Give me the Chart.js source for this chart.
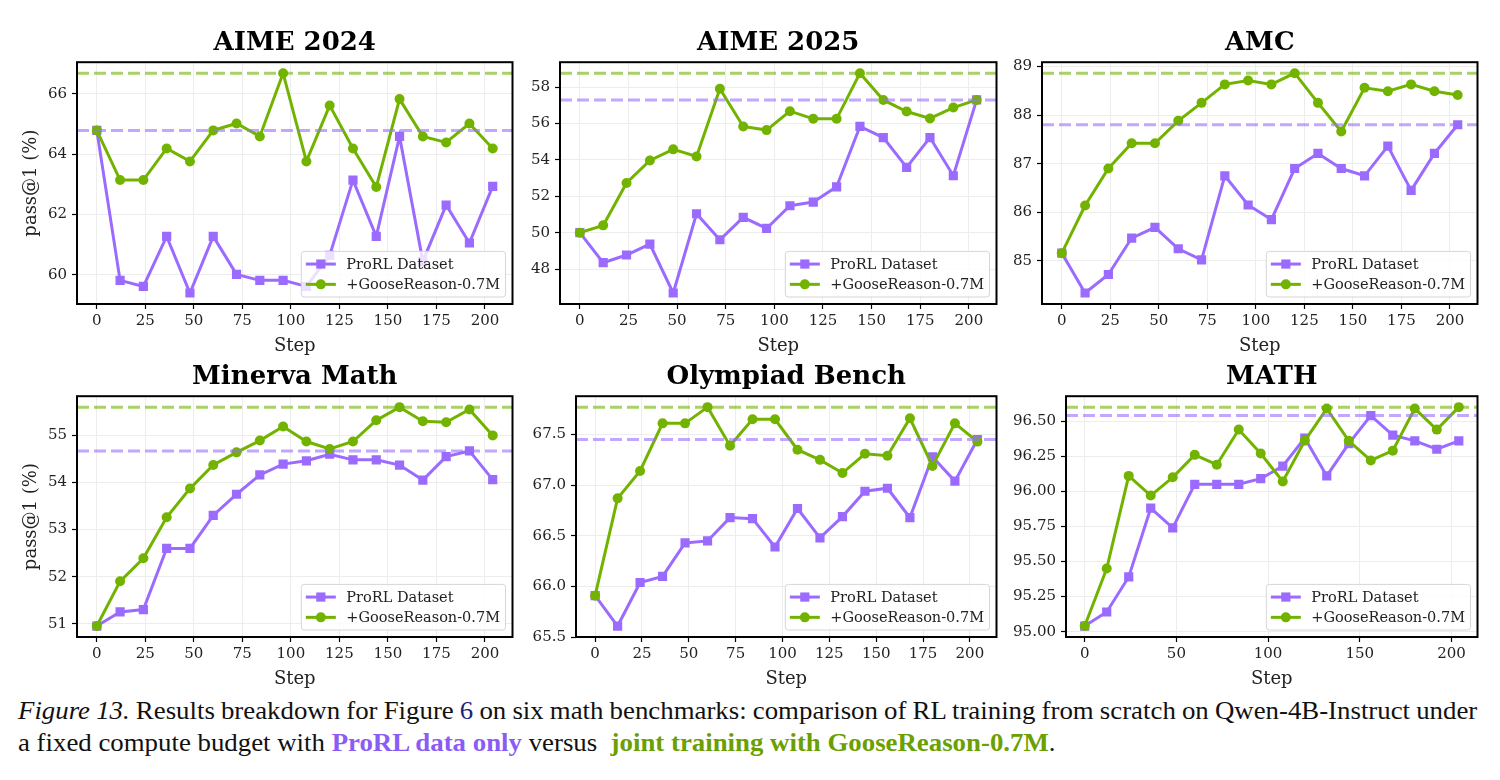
<!DOCTYPE html>
<html>
<head>
<meta charset="utf-8">
<script src="https://cdn.jsdelivr.net/npm/chart.js@4.4.1/dist/chart.umd.min.js"></script>
<style>
  body { margin: 0; background: #fff; width: 1500px; height: 780px; position: relative; overflow: hidden; }
  .panel { position: absolute; }
  .caption { position: absolute; left: 18px; width: 1360px; font-family: "Liberation Serif", "Times New Roman", serif; font-size: 25px; color: #111; transform-origin: 0 0; transform: scaleX(1.073); white-space: nowrap; }
  .line1 { top: 697px; word-spacing: -3.5px; text-align: justify; text-align-last: justify; }
  .line2 { top: 729px; }
  .cp { color: #8a5cf6; font-weight: bold; }
  .cg { color: #6aa000; font-weight: bold; }
  .ref { color: #1a237e; }
</style>
</head>
<body>
<div class="panel" id="box0"><canvas id="c0"></canvas></div>
<div class="panel" id="box1"><canvas id="c1"></canvas></div>
<div class="panel" id="box2"><canvas id="c2"></canvas></div>
<div class="panel" id="box3"><canvas id="c3"></canvas></div>
<div class="panel" id="box4"><canvas id="c4"></canvas></div>
<div class="panel" id="box5"><canvas id="c5"></canvas></div>
<div class="caption line1"><i>Figure 13.</i> Results breakdown for Figure <span class="ref">6</span> on six math benchmarks: comparison of RL training from scratch on Qwen-4B-Instruct under</div>
<div class="caption line2">a fixed compute budget with <span class="cp">ProRL data only</span> versus &nbsp;<span class="cg">joint training with GooseReason-0.7M</span>.</div>
<script>
// training steps (x axis)
const steps = [0, 12, 24, 36, 48, 60, 72, 84, 96, 108, 120, 132, 144, 156, 168, 180, 192, 204];
const xTicks25 = [0, 25, 50, 75, 100, 125, 150, 175, 200];
const xTicks50 = [0, 50, 100, 150, 200];

// pass@1 (%) per benchmark
const aime24Prorl = [64.79, 59.81, 59.61, 61.27, 59.39, 61.27, 60.01, 59.81, 59.81, 59.61, 60.64, 63.14, 61.27, 64.59, 60.44, 62.31, 61.05, 62.93];
const aime24Goose = [64.79, 63.14, 63.14, 64.19, 63.76, 64.79, 65.02, 64.59, 66.69, 63.76, 65.62, 64.19, 62.91, 65.83, 64.59, 64.39, 65.02, 64.19];
const aime24YTicks = [60, 62, 64, 66];

const aime25Prorl = [50.0, 48.35, 48.77, 49.37, 46.68, 51.04, 49.61, 50.84, 50.23, 51.48, 51.68, 52.52, 55.84, 55.23, 53.59, 55.23, 53.13, 57.3];
const aime25Goose = [50.0, 50.4, 52.73, 53.97, 54.58, 54.19, 57.91, 55.84, 55.64, 56.68, 56.26, 56.26, 58.77, 57.3, 56.66, 56.28, 56.88, 57.3];
const aime25YTicks = [48, 50, 52, 54, 56, 58];

const amcProrl = [85.16, 84.34, 84.72, 85.47, 85.69, 85.25, 85.02, 86.75, 86.15, 85.85, 86.9, 87.21, 86.9, 86.75, 87.36, 86.45, 87.21, 87.8];
const amcGoose = [85.16, 86.14, 86.9, 87.42, 87.42, 87.88, 88.25, 88.63, 88.71, 88.63, 88.86, 88.25, 87.66, 88.56, 88.49, 88.63, 88.49, 88.41];
const amcYTicks = [85, 86, 87, 88, 89];

const minervaProrl = [50.95, 51.25, 51.3, 52.6, 52.6, 53.3, 53.75, 54.16, 54.39, 54.46, 54.6, 54.48, 54.48, 54.37, 54.05, 54.55, 54.67, 54.06];
const minervaGoose = [50.95, 51.9, 52.39, 53.26, 53.87, 54.37, 54.64, 54.89, 55.19, 54.87, 54.71, 54.87, 55.32, 55.6, 55.3, 55.28, 55.55, 55.0];
const minervaYTicks = [51, 52, 53, 54, 55];

const olympProrl = [65.91, 65.61, 66.04, 66.1, 66.43, 66.45, 66.68, 66.67, 66.39, 66.77, 66.48, 66.69, 66.94, 66.97, 66.68, 67.28, 67.04, 67.45];
const olympGoose = [65.91, 66.87, 67.14, 67.61, 67.61, 67.77, 67.39, 67.65, 67.65, 67.35, 67.25, 67.12, 67.31, 67.29, 67.66, 67.19, 67.61, 67.43];
const olympYTicks = [65.5, 66.0, 66.5, 67.0, 67.5];

const mathProrl = [95.04, 95.14, 95.39, 95.88, 95.74, 96.05, 96.05, 96.05, 96.09, 96.18, 96.38, 96.11, 96.34, 96.54, 96.4, 96.36, 96.3, 96.36];
const mathGoose = [95.04, 95.45, 96.11, 95.97, 96.1, 96.26, 96.19, 96.44, 96.27, 96.07, 96.36, 96.59, 96.36, 96.22, 96.29, 96.59, 96.44, 96.6];
const mathYTicks = [95.0, 95.25, 95.5, 95.75, 96.0, 96.25, 96.5];

const PURPLE = '#9b6bff';
const GREEN = '#72b300';
const PURPLE_DASH = 'rgba(155,107,255,0.6)';
const GREEN_DASH = 'rgba(114,179,0,0.6)';

const panels = [
  { title: 'AIME 2024', prorl: aime24Prorl, goose: aime24Goose, yTicks: aime24YTicks, xTicks: xTicks25, digits: 0, yTitle: true },
  { title: 'AIME 2025', prorl: aime25Prorl, goose: aime25Goose, yTicks: aime25YTicks, xTicks: xTicks25, digits: 0 },
  { title: 'AMC', prorl: amcProrl, goose: amcGoose, yTicks: amcYTicks, xTicks: xTicks25, digits: 0 },
  { title: 'Minerva Math', prorl: minervaProrl, goose: minervaGoose, yTicks: minervaYTicks, xTicks: xTicks25, digits: 0, yTitle: true },
  { title: 'Olympiad Bench', prorl: olympProrl, goose: olympGoose, yTicks: olympYTicks, xTicks: xTicks25, digits: 1 },
  { title: 'MATH', prorl: mathProrl, goose: mathGoose, yTicks: mathYTicks, xTicks: xTicks50, digits: 2 }
];

// plot area of each panel in page pixels
const plotBoxes = [
  { left: 77, top: 62, right: 513, bottom: 304 },
  { left: 560, top: 62, right: 997, bottom: 304 },
  { left: 1042, top: 62, right: 1478, bottom: 304 },
  { left: 77, top: 396, right: 513, bottom: 637 },
  { left: 576, top: 396, right: 997, bottom: 637 },
  { left: 1066, top: 396, right: 1478, bottom: 637 }
];
const Y_W = 70, TITLE_H = 36, X_H = 53, PAD_R = 6;

Chart.defaults.font.family = '"DejaVu Serif", serif';
Chart.defaults.color = '#222';

// black box round the plot area
const framePlugin = {
  id: 'frame',
  afterDatasetsDraw(chart) {
    const { ctx, chartArea: a } = chart;
    ctx.save();
    ctx.strokeStyle = '#000';
    ctx.lineWidth = 2;
    ctx.strokeRect(a.left, a.top, a.right - a.left, a.bottom - a.top);
    ctx.restore();
  }
};

// matplotlib-like legend in the lower right corner
const boxLegend = {
  id: 'boxLegend',
  afterDraw(chart) {
    const { ctx, chartArea: a } = chart;
    const items = chart.data.datasets.filter(d => d.inLegend);
    const fs = 14.5;
    ctx.save();
    ctx.font = fs + 'px "DejaVu Serif"';
    const tw = Math.max(...items.map(d => ctx.measureText(d.label).width));
    const padX = 4.5, padY = 2.5, handle = 30, gap = 10.5, row = 20.3;
    const w = padX + handle + gap + tw + padX + 1;
    const h = padY * 2 + row * items.length;
    const x = a.right - 7 - w, y = a.bottom - 7 - h;
    ctx.beginPath();
    ctx.roundRect(x, y, w, h, 3);
    ctx.fillStyle = 'rgba(255,255,255,0.8)';
    ctx.fill();
    ctx.strokeStyle = '#d6d6d6';
    ctx.lineWidth = 1;
    ctx.stroke();
    items.forEach((d, i) => {
      const cy = y + padY + row * i + row / 2;
      const hx = x + padX;
      ctx.strokeStyle = d.borderColor;
      ctx.lineWidth = d.borderWidth;
      ctx.beginPath();
      ctx.moveTo(hx, cy);
      ctx.lineTo(hx + handle, cy);
      ctx.stroke();
      ctx.fillStyle = d.borderColor;
      const mx = hx + handle / 2;
      if (d.pointStyle === 'rect') {
        const s = d.pointRadius * Math.SQRT1_2;
        ctx.fillRect(mx - s, cy - s, 2 * s, 2 * s);
      } else {
        ctx.beginPath();
        ctx.arc(mx, cy, d.pointRadius, 0, Math.PI * 2);
        ctx.fill();
      }
      ctx.fillStyle = '#222';
      ctx.textBaseline = 'middle';
      ctx.fillText(d.label, hx + handle + gap, cy + 1);
    });
    ctx.restore();
  }
};

panels.forEach((p, k) => {
  const b = plotBoxes[k];
  const box = document.getElementById('box' + k);
  box.style.left = (b.left - Y_W) + 'px';
  box.style.top = (b.top - TITLE_H) + 'px';
  box.style.width = (Y_W + b.right - b.left + PAD_R) + 'px';
  box.style.height = (TITLE_H + b.bottom - b.top + X_H) + 'px';

  const xMargin = (steps[steps.length - 1] - steps[0]) * 0.05;
  const xMin = steps[0] - xMargin, xMax = steps[steps.length - 1] + xMargin;
  const all = p.prorl.concat(p.goose);
  const lo = Math.min(...all), hi = Math.max(...all);
  const yMargin = (hi - lo) * 0.05;
  const bestProrl = Math.max(...p.prorl), bestGoose = Math.max(...p.goose);

  new Chart(document.getElementById('c' + k), {
    type: 'line',
    data: {
      datasets: [
        {
          label: 'ProRL Dataset', inLegend: true,
          data: steps.map((s, i) => ({ x: s, y: p.prorl[i] })),
          borderColor: PURPLE, backgroundColor: PURPLE, borderWidth: 3,
          pointStyle: 'rect', pointRadius: 6.5, pointBorderWidth: 0, order: 4
        },
        {
          label: '+GooseReason-0.7M', inLegend: true,
          data: steps.map((s, i) => ({ x: s, y: p.goose[i] })),
          borderColor: GREEN, backgroundColor: GREEN, borderWidth: 3,
          pointStyle: 'circle', pointRadius: 5, pointBorderWidth: 0, order: 3
        },
        {
          label: 'best ProRL',
          data: [{ x: xMin, y: bestProrl }, { x: xMax, y: bestProrl }],
          borderColor: PURPLE_DASH, borderWidth: 3, borderDash: [12, 5], pointRadius: 0, order: 2
        },
        {
          label: 'best Goose',
          data: [{ x: xMin, y: bestGoose }, { x: xMax, y: bestGoose }],
          borderColor: GREEN_DASH, borderWidth: 3, borderDash: [12, 5], pointRadius: 0, order: 1
        }
      ]
    },
    options: {
      responsive: true,
      maintainAspectRatio: false,
      animation: false,
      layout: { padding: { left: 0, right: PAD_R, top: 0, bottom: 0 } },
      plugins: {
        legend: { display: false },
        tooltip: { enabled: false },
        title: {
          display: true, text: p.title, color: '#000', fullSize: false,
          font: { size: 26, weight: 'bold', family: '"DejaVu Serif", serif', lineHeight: 1.2 },
          padding: { top: 2, bottom: 3 }
        }
      },
      scales: {
        x: {
          type: 'linear', min: xMin, max: xMax,
          afterBuildTicks: s => { s.ticks = p.xTicks.map(v => ({ value: v })); },
          afterFit: s => { s.height = X_H; },
          grid: { color: '#ededed', lineWidth: 1, drawTicks: true, tickLength: 5, tickColor: '#000', tickWidth: 1.2 },
          border: { display: false },
          ticks: { font: { size: 15 }, color: '#222', padding: 3, maxRotation: 0 },
          title: { display: true, text: 'Step', font: { size: 18 }, color: '#222', padding: { top: 0, bottom: 0 } }
        },
        y: {
          type: 'linear', min: lo - yMargin, max: hi + yMargin,
          afterBuildTicks: s => { s.ticks = p.yTicks.map(v => ({ value: v })); },
          afterFit: s => { s.width = Y_W; },
          grid: { color: '#ededed', lineWidth: 1, drawTicks: true, tickLength: 5, tickColor: '#000', tickWidth: 1.2 },
          border: { display: false },
          ticks: { font: { size: 15 }, color: '#222', padding: 5, callback: v => v.toFixed(p.digits) },
          title: { display: !!p.yTitle, text: 'pass@1 (%)', font: { size: 18 }, color: '#222', padding: { top: 14, bottom: 0 } }
        }
      }
    },
    plugins: [framePlugin, boxLegend]
  });
});
</script>
</body>
</html>
